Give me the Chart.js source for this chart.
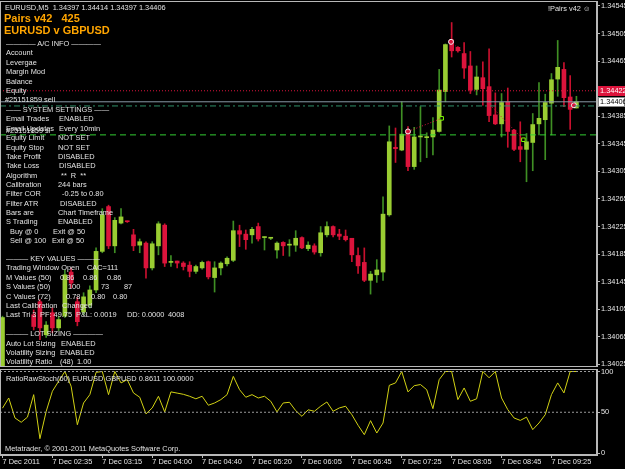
<!DOCTYPE html>
<html>
<head>
<meta charset="utf-8">
<script src="https://cdn.jsdelivr.net/npm/chart.js@4.4.1/dist/chart.umd.min.js"></script>
<style>
  html, body { margin: 0; padding: 0; background: #000; }
  #wrap { position: relative; width: 625px; height: 469px; overflow: hidden; background: #000;
          font-family: "Liberation Sans", Arial, sans-serif; }
  canvas { position: absolute; left: 0; }
  #main { top: 1px; }
  #sub { top: 369px; }
  .t { position: absolute; white-space: pre; color: #e2e2e2; font-size: 7.4px; line-height: 1;
       transform: translateY(-50%); pointer-events: none; }
  .big { color: #ffa500; font-weight: bold; font-size: 11px; }
</style>
</head>
<body>
<div id="wrap">
  <canvas id="main" width="625" height="366"></canvas>
  <canvas id="sub" width="625" height="100"></canvas>
</div>
<script>
// EURUSD M5 bars (bars 1-4 sit below the visible range)
const opens = [1.33990,1.34010,1.33995,1.34005,1.33998,1.34097,1.34116,1.34068,1.34100,1.34078,
  1.34095,1.34159,1.34116,1.34101,1.34111,1.34133,1.34189,1.34254,1.34197,1.34230,
  1.34233,1.34213,1.34198,1.34201,1.34165,1.34197,1.34227,1.34173,1.34175,1.34172,
  1.34169,1.34160,1.34165,1.34174,1.34151,1.34165,1.34171,1.34176,1.34219,1.34214,
  1.34213,1.34225,1.34209,1.34208,1.34191,1.34202,1.34198,1.34198,1.34209,1.34193,
  1.34197,1.34187,1.34213,1.34225,1.34214,1.34211,1.34208,1.34183,1.34173,1.34147,
  1.34155,1.34159,1.34242,1.34340,1.34336,1.34363,1.34312,1.34355,1.34354,1.34355,
  1.34363,1.34421,1.34496,1.34485,1.34476,1.34458,1.34424,1.34441,1.34428,1.34387,
  1.34374,1.34406,1.34365,1.34341,1.34337,1.34347,1.34374,1.34380,1.34404,1.34439,
  1.34453,1.34413,1.34397];
const highs = [1.34095,1.34018,1.34012,1.34015,1.34016,1.34104,1.34119,1.34087,1.34107,1.34095,
  1.34162,1.34165,1.34122,1.34129,1.34139,1.34194,1.34251,1.34256,1.34238,1.34251,
  1.34233,1.34221,1.34207,1.34203,1.34203,1.34232,1.34229,1.34183,1.34175,1.34174,
  1.34174,1.34169,1.34175,1.34175,1.34174,1.34174,1.34181,1.34233,1.34227,1.34220,
  1.34224,1.34230,1.34210,1.34209,1.34203,1.34203,1.34206,1.34219,1.34210,1.34203,
  1.34200,1.34225,1.34232,1.34226,1.34221,1.34220,1.34208,1.34194,1.34194,1.34160,
  1.34177,1.34268,1.34371,1.34368,1.34406,1.34370,1.34369,1.34399,1.34361,1.34383,
  1.34453,1.34490,1.34521,1.34486,1.34492,1.34479,1.34458,1.34464,1.34483,1.34419,
  1.34418,1.34426,1.34366,1.34377,1.34360,1.34389,1.34434,1.34417,1.34447,1.34495,
  1.34463,1.34444,1.34414];
const lows = [1.33980,1.33985,1.33980,1.33990,1.33985,1.34075,1.34061,1.34064,1.34071,1.34074,
  1.34093,1.34136,1.34081,1.34097,1.34107,1.34129,1.34187,1.34193,1.34187,1.34229,
  1.34231,1.34190,1.34187,1.34150,1.34162,1.34184,1.34167,1.34167,1.34165,1.34162,
  1.34152,1.34157,1.34163,1.34149,1.34130,1.34155,1.34168,1.34174,1.34196,1.34192,
  1.34201,1.34204,1.34191,1.34206,1.34179,1.34183,1.34182,1.34189,1.34193,1.34190,
  1.34185,1.34182,1.34210,1.34210,1.34206,1.34204,1.34174,1.34157,1.34145,1.34127,
  1.34144,1.34147,1.34240,1.34318,1.34335,1.34306,1.34308,1.34319,1.34325,1.34329,
  1.34362,1.34406,1.34471,1.34478,1.34440,1.34418,1.34416,1.34401,1.34377,1.34373,
  1.34355,1.34340,1.34335,1.34319,1.34290,1.34306,1.34358,1.34322,1.34358,1.34414,
  1.34399,1.34366,1.34397];
const closes = [1.34093,1.33995,1.34005,1.33998,1.34012,1.34080,1.34078,1.34082,1.34078,1.34090,
  1.34155,1.34143,1.34087,1.34123,1.34133,1.34189,1.34242,1.34197,1.34234,1.34239,
  1.34232,1.34197,1.34203,1.34165,1.34200,1.34229,1.34172,1.34174,1.34172,1.34167,
  1.34160,1.34167,1.34173,1.34152,1.34165,1.34172,1.34179,1.34219,1.34214,1.34206,
  1.34221,1.34207,1.34210,1.34209,1.34201,1.34197,1.34199,1.34208,1.34194,1.34198,
  1.34188,1.34216,1.34225,1.34213,1.34211,1.34206,1.34184,1.34168,1.34147,1.34156,
  1.34162,1.34243,1.34348,1.34338,1.34359,1.34312,1.34355,1.34356,1.34355,1.34365,
  1.34423,1.34489,1.34480,1.34480,1.34455,1.34423,1.34442,1.34425,1.34386,1.34374,
  1.34405,1.34363,1.34337,1.34337,1.34348,1.34373,1.34382,1.34405,1.34438,1.34456,
  1.34412,1.34395,1.34406];

// RatioRawStoch(60) subwindow
const stoch = [55,67.5,43,37.7,44,71.6,17.6,51,75.8,88,
  100,82,34.7,61.4,71.6,99,100,71.6,100,86,
  90,73.7,68.4,48,55.3,69.6,50.4,75,73.5,72,
  69.6,66.5,69.6,58.6,61.4,65.5,71.6,94,77.7,68.4,
  71.6,67.5,69.6,63.5,50.4,61.4,62.2,52,45,53,
  51.2,57.4,62.6,51.2,55.3,57.4,47,34,22.5,39.7,
  24.5,36.8,83,86,100,75,82.6,84,77.7,54.4,
  90,100,100,65.5,79.8,63.5,66.5,100,92.3,100,
  67.5,53.2,43,40,44,28.7,36.8,47,71.6,86,
  73.7,100,100];
const stochLevels = [50, 100];

// time axis: one label every 8 bars
const timeTickBars = [0, 8, 16, 24, 32, 40, 48, 56, 64, 72, 80, 88];
const timeTickLabels = ["7 Dec 2011", "7 Dec 02:35", "7 Dec 03:15", "7 Dec 04:00", "7 Dec 04:40",
  "7 Dec 05:20", "7 Dec 06:05", "7 Dec 06:45", "7 Dec 07:25", "7 Dec 08:05", "7 Dec 08:45", "7 Dec 09:25"];
const priceTicks = [1.34025, 1.34065, 1.34105, 1.34145, 1.34185, 1.34225, 1.34265, 1.34305,
  1.34345, 1.34385, 1.34425, 1.34465, 1.34505, 1.34545];
const stochTicks = [0, 50, 100];

// horizontal price lines on the main window
const askPrice = 1.34422;
const bidPrice = 1.34406;
const orderPrice = 1.34400;
const stopPrice = 1.34358;

// trade history arrows (bar position, price)
const sellBars = [65, 71.9, 91.6];
const sellPrices = [1.34363, 1.34493, 1.34401];
const exitBars = [70.4, 83.5];
const exitPrices = [1.34382, 1.34351];
const tradeLines = [
  [[65, 1.34363], [70.4, 1.34382]],
  [[71.9, 1.34493], [73.6, 1.34479]],
  [[78.2, 1.34401], [83.5, 1.34351]],
];

const BULL = "#9acd32", BEAR = "#dc143c", BULL_WICK = "#3f8f24", BEAR_WICK = "#c8102e";
const AXIS = "#b8b8b8", TXT = "#e6e6e6";
const FONT = { family: "Liberation Sans", size: 7.4 };
const X_MIN = -0.4, X_MAX = 95.3;

const idx = opens.map(function (_, i) { return i; });
const isUp = idx.map(function (i) { return closes[i] >= opens[i]; });

function hline(price, color, dash, width) {
  return {
    type: "line",
    data: [{ x: X_MIN, y: price }, { x: X_MAX, y: price }],
    borderColor: color, borderWidth: width || 1, borderDash: dash,
    pointRadius: 0, order: 0,
  };
}

const framePlugin = {
  id: "frame",
  afterDraw: function (chart) {
    const a = chart.chartArea, g = chart.ctx;
    g.save();
    g.strokeStyle = AXIS;
    g.lineWidth = 1;
    g.strokeRect(a.left + 0.5, a.top + 0.5, a.right - a.left - 1, a.bottom - a.top - 1);
    g.restore();
  },
};

// ask / bid boxes on the price scale
const priceBoxes = {
  id: "priceBoxes",
  afterDraw: function (chart) {
    const y = chart.scales.y, g = chart.ctx, left = chart.chartArea.right + 1;
    g.save();
    g.font = "7.4px 'Liberation Sans'";
    g.textBaseline = "middle";
    const ya = Math.round(y.getPixelForValue(askPrice));
    g.fillStyle = BEAR;
    g.fillRect(left, ya - 5, 27, 10);
    g.fillStyle = "#fff";
    g.fillText(askPrice.toFixed(5), left + 2, ya);
    const yb = Math.round(y.getPixelForValue(bidPrice));
    g.fillStyle = "#fff";
    g.fillRect(left, yb - 5, 27, 10);
    g.strokeStyle = "#888";
    g.strokeRect(left + 0.5, yb - 4.5, 26, 9);
    g.fillStyle = "#000";
    g.fillText(bidPrice.toFixed(5), left + 2, yb);
    g.restore();
  },
};

const tradeSets = tradeLines.map(function (seg) {
  return {
    type: "line",
    data: seg.map(function (p) { return { x: p[0], y: p[1] }; }),
    borderColor: BEAR, borderWidth: 1, borderDash: [1, 2], pointRadius: 0, order: 0,
  };
}).concat([
  {
    type: "line", showLine: false, order: 0,
    data: sellBars.map(function (b, k) { return { x: b, y: sellPrices[k] }; }),
    pointRadius: 2.5, pointBackgroundColor: BEAR, pointBorderColor: "#f0f0f0", pointBorderWidth: 1,
  },
  {
    type: "line", showLine: false, order: 0,
    data: exitBars.map(function (b, k) { return { x: b, y: exitPrices[k] }; }),
    pointStyle: "rect", pointRadius: 2.5, pointBackgroundColor: "#000", pointBorderColor: "#7cfc00", pointBorderWidth: 1,
  },
]);

new Chart(document.getElementById("main"), {
  type: "bar",
  data: {
    datasets: [
      hline(askPrice, BEAR, [1, 2]),
      hline(bidPrice, "#8899a6", []),
      hline(orderPrice, "#2f8f6a", [6, 3, 2, 3]),
      hline(stopPrice, "#32cd32", [6, 4]),
    ].concat(tradeSets).concat([
      {
        data: idx.map(function (i) { return { x: i, y: [opens[i], closes[i]] }; }),
        backgroundColor: idx.map(function (i) { return isUp[i] ? BULL : BEAR; }),
        barThickness: 4, minBarLength: 1, grouped: false, borderWidth: 0, order: 1,
      },
      {
        data: idx.map(function (i) { return { x: i, y: [lows[i], highs[i]] }; }),
        backgroundColor: idx.map(function (i) { return isUp[i] ? BULL_WICK : BEAR_WICK; }),
        barThickness: 1, grouped: false, borderWidth: 0, order: 2,
      },
    ]),
  },
  options: {
    responsive: false,
    animation: false,
    events: [],
    layout: { padding: 0, autoPadding: false },
    plugins: { legend: { display: false }, tooltip: { enabled: false } },
    scales: {
      x: { type: "linear", min: X_MIN, max: X_MAX, offset: false, display: false },
      y: {
        position: "right",
        min: 1.3402124, max: 1.3455225,
        afterBuildTicks: function (s) { s.ticks = priceTicks.map(function (v) { return { value: v }; }); },
        afterFit: function (s) { s.width = 28; s.paddingTop = 0; s.paddingBottom = 0; },
        ticks: { color: TXT, font: FONT, padding: 1, callback: function (v) { return Number(v).toFixed(5); } },
        grid: { drawOnChartArea: false, tickLength: 3, color: AXIS },
        border: { color: AXIS },
      },
    },
  },
  plugins: [framePlugin, priceBoxes],
});

new Chart(document.getElementById("sub"), {
  type: "line",
  data: {
    datasets: stochLevels.map(function (lv) {
      return {
        data: [{ x: X_MIN, y: lv }, { x: X_MAX, y: lv }],
        borderColor: "#9a9a9a", borderWidth: 1, borderDash: [2, 2], pointRadius: 0,
      };
    }).concat([{
      data: idx.map(function (i) { return { x: i, y: stoch[i] }; }),
      borderColor: "#d2d214", borderWidth: 1, pointRadius: 0, tension: 0,
    }]),
  },
  options: {
    responsive: false,
    animation: false,
    events: [],
    layout: { padding: 0, autoPadding: false },
    plugins: { legend: { display: false }, tooltip: { enabled: false } },
    scales: {
      x: {
        type: "linear", min: X_MIN, max: X_MAX, offset: false,
        afterBuildTicks: function (s) { s.ticks = timeTickBars.map(function (v) { return { value: v }; }); },
        afterFit: function (s) { s.height = 14; s.paddingLeft = 0; s.paddingRight = 0; },
        ticks: {
          color: TXT, font: FONT, padding: 0, align: "start", maxRotation: 0, autoSkip: false,
          callback: function (v) { return timeTickLabels[timeTickBars.indexOf(v)]; },
        },
        grid: { drawOnChartArea: false, tickLength: 3, color: AXIS },
        border: { color: AXIS },
      },
      y: {
        position: "right",
        min: -2.45, max: 103.07,
        afterBuildTicks: function (s) { s.ticks = stochTicks.map(function (v) { return { value: v }; }); },
        afterFit: function (s) { s.width = 28; s.paddingTop = 0; s.paddingBottom = 0; },
        ticks: { color: TXT, font: FONT, padding: 1 },
        grid: { drawOnChartArea: false, tickLength: 3, color: AXIS },
        border: { color: AXIS },
      },
    },
  },
  plugins: [framePlugin],
});

// text objects drawn by the expert on the chart: [x, y(centre), text, class]
const notes = [
  [5, 7.5, "EURUSD,M5  1.34397 1.34414 1.34397 1.34406"],
  [548, 8.5, "!Pairs v42 \u263A"],
  [4, 18, "Pairs v42   425", "big"],
  [4, 29.5, "EURUSD v GBPUSD", "big"],
  [6, 44, "\u2014\u2014\u2014\u2014 A/C INFO \u2014\u2014\u2014\u2014"],
  [6, 53.3, "Account"], [6, 62.7, "Levergae"], [6, 72.2, "Margin Mod"], [6, 81.6, "Balance"],
  [6, 91, "Equity"], [5, 100.3, "#25151859 sell"],
  [6, 109.5, "\u2014\u2014 SYSTEM SETTINGS \u2014\u2014"],
  [6, 119, "Email Trades"], [59, 119, "ENABLED"],
  [6, 128.7, "Email Updates"], [59, 128.7, "Every 10min"], [6, 131, "#25151859 sl"],
  [6, 138.3, "Equity Limit"], [58, 138.3, "NOT SET"],
  [6, 147.7, "Equity Stop"], [58, 147.7, "NOT SET"],
  [6, 157, "Take Profit"], [58, 157, "DISABLED"],
  [6, 166.3, "Take Loss"], [59, 166.3, "DISABLED"],
  [6, 175.7, "Algorithm"], [61, 175.7, "**  R  **"],
  [6, 185, "Calibration"], [58, 185, "244 bars"],
  [6, 194.3, "Filter COR"], [62, 194.3, "-0.25 to 0.80"],
  [6, 203.7, "Filter ATR"], [60, 203.7, "DISABLED"],
  [6, 213, "Bars are"], [58, 213, "Chart Timeframe"],
  [6, 222.3, "S Trading"], [58, 222.3, "ENABLED"],
  [10, 231.7, "Buy @ 0"], [53, 231.7, "Exit @ 50"],
  [10, 240.7, "Sell @ 100"], [52, 240.7, "Exit @ 50"],
  [6, 259.3, "\u2014\u2014\u2014 KEY VALUES \u2014\u2014\u2014"],
  [6, 268.3, "Trading Window Open"], [87, 268.3, "CAC=111"],
  [6, 277.7, "M Values (50)"], [60, 277.7, "0.86"], [83, 277.7, "0.86"], [107, 277.7, "0.86"],
  [6, 287.3, "S Values (50)"], [68, 287.3, "100"], [101, 287.3, "73"], [124, 287.3, "87"],
  [6, 296.7, "C Values (72)"], [66, 296.7, "0.78"], [91, 296.7, "0.80"], [113, 296.7, "0.80"],
  [6, 306, "Last Calibration"], [62, 306, "Changed"],
  [6, 315, "Last Tri 3"], [40, 315, "PF: 49.75"], [76, 315, "P&L: 0.0019"], [127, 315, "DD: 0.0000"], [168, 315, "4008"],
  [6, 334.3, "\u2014\u2014\u2014 LOT SIZING \u2014\u2014\u2014\u2014"],
  [6, 343.7, "Auto Lot Sizing"], [61, 343.7, "ENABLED"],
  [6, 353.3, "Volatility Sizing"], [60, 353.3, "ENABLED"],
  [6, 362.3, "Volatility Ratio"], [60, 362.3, "(48)"], [77, 362.3, "1.00"],
  [6, 378.7, "RatioRawStoch(60) EURUSD GBPUSD 0.8611 100.0000"],
  [5, 448.5, "Metatrader, \u00A9 2001-2011 MetaQuotes Software Corp."],
];
const wrap = document.getElementById("wrap");
notes.forEach(function (n) {
  const el = document.createElement("div");
  el.className = "t" + (n[3] ? " " + n[3] : "");
  el.style.left = n[0] + "px";
  el.style.top = n[1] + "px";
  el.textContent = n[2];
  wrap.appendChild(el);
});
</script>
</body>
</html>
